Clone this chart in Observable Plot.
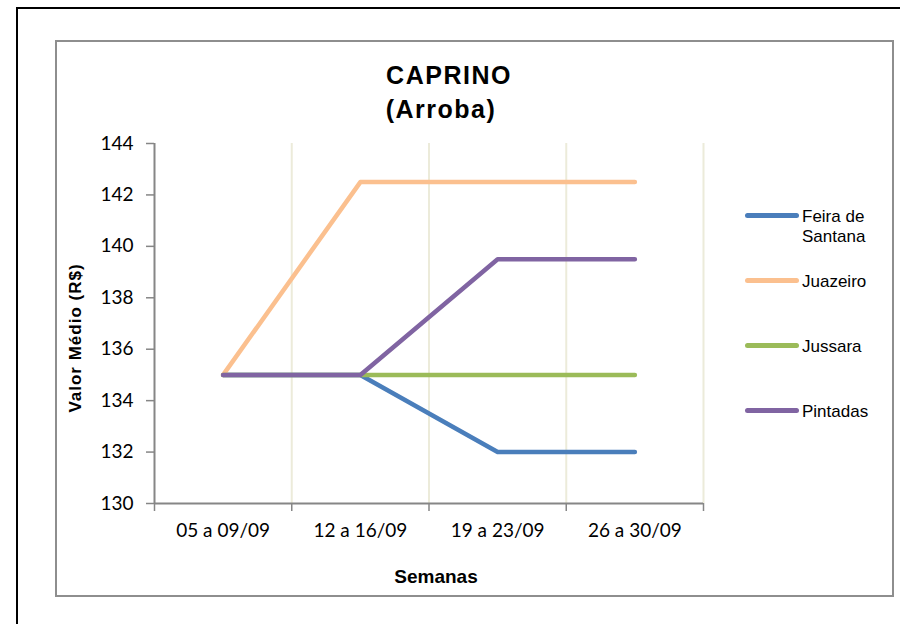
<!DOCTYPE html>
<html>
<head>
<meta charset="utf-8">
<script src="https://cdn.jsdelivr.net/npm/d3@7"></script>
<script src="https://cdn.jsdelivr.net/npm/@observablehq/plot@0.6"></script>
<style>
  html, body { margin: 0; padding: 0; background: #fff; overflow: hidden; }
  #wrap { position: relative; width: 900px; height: 624px; overflow: hidden; }
  .abs { position: absolute; }
  #outer { left: 16px; top: 7px; width: 1000px; height: 800px; border-top: 2px solid #000; border-left: 2px solid #000; }
  #inner { left: 55px; top: 40px; width: 835px; height: 553px; border: 2px solid #8e8e8e; }
  .title { transform: translate(-50%, 0); white-space: nowrap; font-family: "Liberation Sans", Arial, sans-serif; font-weight: bold; font-size: 25px; letter-spacing: 1.5px; line-height: 34px; color: #000; }
  #ylab { left: 75.5px; top: 338px; transform: translate(-50%, -50%) rotate(-90deg); white-space: nowrap; font-family: "Liberation Sans", Arial, sans-serif; font-weight: bold; font-size: 17px; letter-spacing: 1px; }
  #xlab { left: 436px; top: 577px; transform: translate(-50%, -50%); white-space: nowrap; font-family: "Liberation Sans", Arial, sans-serif; font-weight: bold; font-size: 19px; }
  .leg { position: absolute; left: 745px; font-family: "Liberation Sans", Arial, sans-serif; font-size: 17px; line-height: 20px; }
  .leg .sw { position: absolute; left: 0; width: 54px; height: 4.5px; border-radius: 3px; }
  .leg .tx { position: absolute; left: 57px; white-space: nowrap; }
</style>
</head>
<body>
<div id="wrap">
  <div id="outer" class="abs"></div>
  <div id="inner" class="abs"></div>
  <div id="chart" class="abs" style="left:0;top:0"></div>
  <div class="abs title" style="left:449px;top:58px">CAPRINO</div>
  <div class="abs title" style="left:441px;top:92px">(Arroba)</div>
  <div id="ylab" class="abs">Valor Médio (R$)</div>
  <div id="xlab" class="abs">Semanas</div>
  <div id="legend"></div>
</div>
<script>
const weeks = ["05 a 09/09", "12 a 16/09", "19 a 23/09", "26 a 30/09"];
const seriesNames = ["Feira de Santana", "Juazeiro", "Jussara", "Pintadas"];
const feira = [135, 135, 132, 132];
const juazeiro = [135, 142.5, 142.5, 142.5];
const jussara = [135, 135, 135, 135];
const pintadas = [135, 135, 139.5, 139.5];
const colors = ["#4a7ebb", "#fbc08f", "#9bbb59", "#8064a2"];
const yTicks = [130, 132, 134, 136, 138, 140, 142, 144];

const allValues = [feira, juazeiro, jussara, pintadas];
const data = [];
seriesNames.forEach((s, k) => {
  allValues[k].forEach((v, i) => data.push({series: s, x: i + 0.5, value: v}));
});

const axisGray = "#868686";
const chart = Plot.plot({
  width: 900,
  height: 624,
  marginLeft: 154,
  marginRight: 197,
  marginTop: 143,
  marginBottom: 121,
  style: {fontFamily: "Lato, 'Open Sans', sans-serif", fontSize: "19px", color: "#000", background: "transparent"},
  x: {domain: [0, weeks.length], axis: null},
  y: {domain: [130, 144], axis: null},
  color: {domain: seriesNames, range: colors},
  marks: [
    Plot.ruleX(d3.range(1, weeks.length + 1), {stroke: "#ecebda", strokeWidth: 2}),
    Plot.axisY({ticks: yTicks, tickSize: 8, tickPadding: 13, stroke: axisGray, strokeWidth: 1.5, fill: "#000", label: null, fontSize: 19}),
    Plot.axisX({ticks: d3.range(0, weeks.length + 1), tickSize: 8, tickFormat: () => "", stroke: axisGray, strokeWidth: 1.5, label: null}),
    Plot.axisX({ticks: weeks.map((w, i) => i + 0.5), tickSize: 0, tickPadding: 20, tickFormat: d => weeks[Math.round(d - 0.5)], fill: "#000", label: null, fontSize: 19}),
    Plot.ruleX([0], {stroke: axisGray, strokeWidth: 2}),
    Plot.ruleY([130], {stroke: axisGray, strokeWidth: 2}),
    Plot.line(data, {x: "x", y: "value", z: "series", stroke: "series", strokeWidth: 4.5, strokeLinecap: "round", strokeLinejoin: "round"})
  ]
});
document.getElementById("chart").appendChild(chart);

// legend
const legendTops = [215, 280, 345, 410];
const legendLabels = [["Feira de", "Santana"], ["Juazeiro"], ["Jussara"], ["Pintadas"]];
const legend = document.getElementById("legend");
seriesNames.forEach((s, k) => {
  const item = document.createElement("div");
  item.className = "leg";
  item.style.top = legendTops[k] + "px";
  const sw = document.createElement("div");
  sw.className = "sw";
  sw.style.background = colors[k];
  sw.style.top = "-2px";
  const tx = document.createElement("div");
  tx.className = "tx";
  tx.style.top = "-8px";
  tx.innerHTML = legendLabels[k].join("<br>");
  item.appendChild(sw);
  item.appendChild(tx);
  legend.appendChild(item);
});
</script>
</body>
</html>
